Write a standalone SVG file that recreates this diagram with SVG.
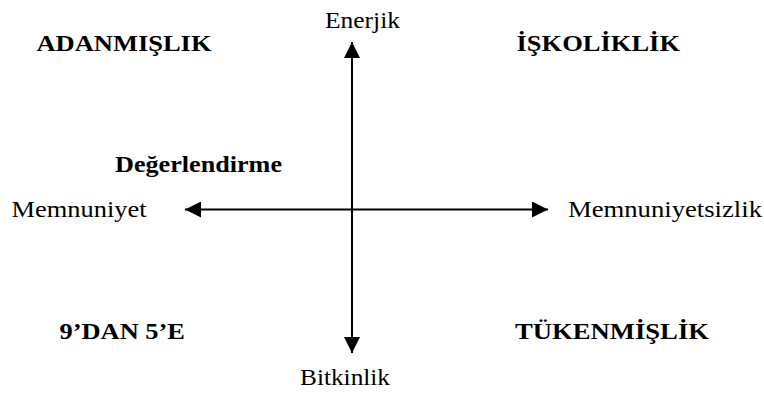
<svg xmlns="http://www.w3.org/2000/svg" width="764" height="394" viewBox="0 0 764 394">
  <style>
    text { font-family: "Liberation Serif", "Times New Roman", serif; font-size: 23px; fill: #000; }
    .q { font-weight: bold; }
    .axis { stroke: #000; stroke-width: 2; fill: none; }
  </style>
  <defs>
    <marker id="head" markerUnits="userSpaceOnUse" markerWidth="16" markerHeight="16" refX="16" refY="8" orient="auto">
      <path d="M0,0 L16,8 L0,16 Z" fill="#000"/>
    </marker>
  </defs>
  <rect width="764" height="394" fill="#fff"/>

  <g id="connectors">
    <line class="axis" x1="352" y1="209.5" x2="352" y2="42" marker-end="url(#head)"/>
    <line class="axis" x1="352" y1="209.5" x2="352" y2="353" marker-end="url(#head)"/>
    <line class="axis" x1="352" y1="209.5" x2="185" y2="209.5" marker-end="url(#head)"/>
    <line class="axis" x1="352" y1="209.5" x2="548" y2="209.5" marker-end="url(#head)"/>
  </g>

  <g id="enerjik"><text x="325" y="28" textLength="75" lengthAdjust="spacingAndGlyphs">Enerjik</text></g>
  <g id="bitkinlik"><text x="300" y="385" textLength="90" lengthAdjust="spacingAndGlyphs">Bitkinlik</text></g>
  <g id="memnuniyet"><text x="11.5" y="217" textLength="135" lengthAdjust="spacingAndGlyphs">Memnuniyet</text></g>
  <g id="memnuniyetsizlik"><text x="568" y="217" textLength="194" lengthAdjust="spacingAndGlyphs">Memnuniyetsizlik</text></g>

  <g id="adanmislik"><text class="q" x="36.5" y="51" textLength="175" lengthAdjust="spacingAndGlyphs">ADANMIŞLIK</text></g>
  <g id="iskoliklik"><text class="q" x="516.5" y="51" textLength="163.5" lengthAdjust="spacingAndGlyphs">İŞKOLİKLİK</text></g>
  <g id="degerlendirme"><text class="q" x="115" y="171.5" textLength="167" lengthAdjust="spacingAndGlyphs">Değerlendirme</text></g>
  <g id="dokuzdan-bese"><text class="q" x="59.5" y="339" textLength="125.5" lengthAdjust="spacingAndGlyphs">9’DAN 5’E</text></g>
  <g id="tukenmislik"><text class="q" x="515" y="339" textLength="194" lengthAdjust="spacingAndGlyphs">TÜKENMİŞLİK</text></g>
</svg>
